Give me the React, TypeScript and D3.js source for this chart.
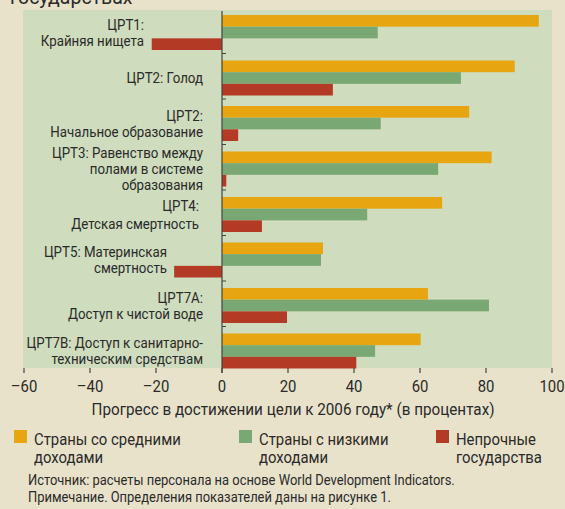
import React from 'react';
import * as d3 from 'd3';

// Data
const goals = ['g1', 'g2', 'g2b', 'g3', 'g4', 'g5', 'g7a', 'g7b'];
const goalLabels = [
  ['ЦРТ1:', 'Крайняя нищета'],
  ['ЦРТ2: Голод'],
  ['ЦРТ2:', 'Начальное образование'],
  ['ЦРТ3: Равенство между', 'полами в системе', 'образования'],
  ['ЦРТ4:', 'Детская смертность'],
  ['ЦРТ5: Материнская', 'смертность'],
  ['ЦРТ7A:', 'Доступ к чистой воде'],
  ['ЦРТ7B: Доступ к санитарно-', 'техническим средствам'],
];
const middleIncome = [96, 88.7, 74.9, 81.7, 66.7, 30.6, 62.4, 60.2];
const lowIncome = [47.2, 72.4, 48.1, 65.5, 44, 30, 80.9, 46.4];
const fragile = [-21.3, 33.6, 4.9, 1.3, 12.1, -14.5, 19.7, 40.7];
const seriesNames = [
  ['Страны со средними', 'доходами'],
  ['Страны с низкими', 'доходами'],
  ['Непрочные', 'государства'],
];
const xTicks = [-60, -40, -20, 0, 20, 40, 60, 80, 100];

const colors = ['#e6a511', '#7aa874', '#b33b26'];
const font = 'Roboto, "Liberation Sans", Arial, sans-serif';
const textColor = '#2a2a2a';

// label right edges (the original sets them by hand)
const labelRight = [144, 203, 203, 203, 199, 167, 203, 203];

// the original uses a condensed face; squeeze Roboto horizontally
const T = ({ x, y, size, anchor = 'start', sx = 0.93, children }: any) => (
  <text transform={`translate(${x},${y}) scale(${sx},1)`} textAnchor={anchor} fontSize={size} fill={textColor}>
    {children}
  </text>
);

export default function App() {
  const width = 565;
  const height = 509;
  const panel = { left: 23, right: 552, top: 10, bottom: 368 };

  const x = d3.scaleLinear().domain([-60, 100]).range([panel.left + 1, panel.right]);
  const y = d3.scaleBand<string>().domain(goals).range([8, 8 + 45.5 * goals.length]);
  const barH = 35 / 3;
  const series = [middleIncome, lowIncome, fragile];

  return (
    <svg width={width} height={height} style={{ position: 'absolute', left: 0, top: 0, fontFamily: font }}>
      <rect width={width} height={height} fill="#e9e2cb" />
      <T x={10} y={4} size={21}>государствах</T>
      <rect x={panel.left} y={panel.top} width={panel.right - panel.left} height={panel.bottom - panel.top} fill="#cfdcbd" />

      {goals.map((g, i) => {
        const top = (y(g) as number) + 7;
        return (
          <g key={g}>
            {series.map((s, k) => {
              const v = s[i];
              const x0 = x(Math.min(0, v));
              const x1 = x(Math.max(0, v));
              return <rect key={k} x={x0} y={top + k * barH} width={x1 - x0} height={barH} fill={colors[k]} />;
            })}
          </g>
        );
      })}

      {/* category labels */}
      {goalLabels.map((lines, i) => {
        const cy = (y(goals[i]) as number) + y.bandwidth() / 2;
        const lh = i === 4 ? 18 : 16;
        const first = cy - ((lines.length - 1) * lh) / 2 + 7;
        return (
          <g key={i}>
            {lines.map((l, j) => (
              <T key={j} x={labelRight[i]} y={first + j * lh} size={14.3} anchor="end">{l}</T>
            ))}
          </g>
        );
      })}

      {/* zero line and category separators */}
      <line x1={x(0)} x2={x(0)} y1={panel.top + 1} y2={panel.bottom + 5} stroke="#444" strokeWidth={1.2} />
      {goals.slice(1).map(g => (
        <line key={g} x1={x(0)} x2={x(0) + 4} y1={y(g) as number} y2={y(g) as number} stroke="#444" strokeWidth={1} />
      ))}

      {/* x axis */}
      {xTicks.map(t => (
        <g key={t}>
          <line x1={x(t)} x2={x(t)} y1={panel.bottom} y2={panel.bottom + 5} stroke="#444" strokeWidth={1.2} />
          <T x={x(t)} y={392} size={16} anchor="middle">
            {t < 0 ? `\u2013${Math.abs(t)}` : t}
          </T>
        </g>
      ))}
      <T x={293} y={415} size={16.4} anchor="middle">
        Прогресс в достижении цели к 2006 году* (в процентах)
      </T>

      {/* legend */}
      {seriesNames.map((lines, k) => {
        const lx = [14, 239, 436][k];
        return (
          <g key={k}>
            <rect x={lx} y={430} width={13} height={13} fill={colors[k]} />
            {lines.map((l, j) => (
              <T key={j} x={lx + 20} y={445 + j * 18} size={16}>{l}</T>
            ))}
          </g>
        );
      })}

      <T x={28} y={485} size={13.9}>
        Источник: расчеты персонала на основе World Development Indicators.
      </T>
      <T x={28} y={502} size={13.9}>
        Примечание. Определения показателей даны на рисунке 1.
      </T>
    </svg>
  );
}
